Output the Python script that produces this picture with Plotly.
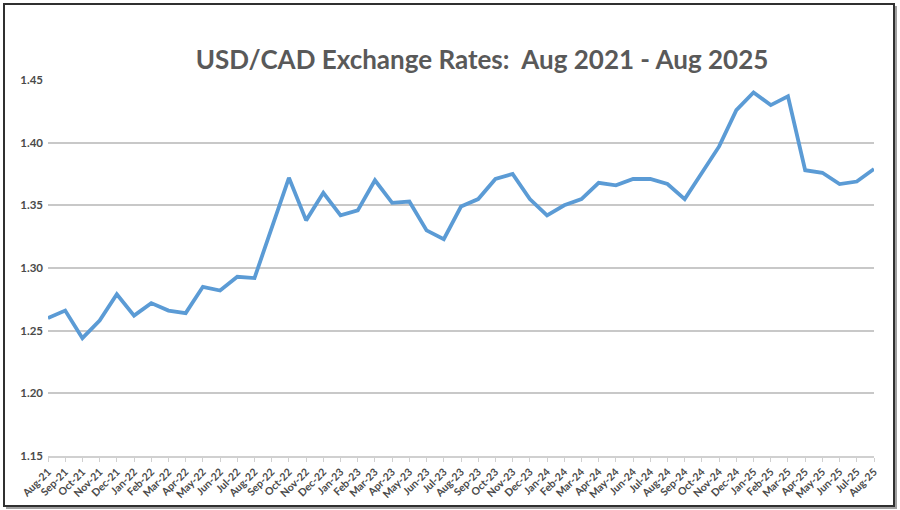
import plotly.graph_objects as go

months = ["Aug-21","Sep-21","Oct-21","Nov-21","Dec-21","Jan-22","Feb-22","Mar-22","Apr-22","May-22",
          "Jun-22","Jul-22","Aug-22","Sep-22","Oct-22","Nov-22","Dec-22","Jan-23","Feb-23","Mar-23",
          "Apr-23","May-23","Jun-23","Jul-23","Aug-23","Sep-23","Oct-23","Nov-23","Dec-23","Jan-24",
          "Feb-24","Mar-24","Apr-24","May-24","Jun-24","Jul-24","Aug-24","Sep-24","Oct-24","Nov-24",
          "Dec-24","Jan-25","Feb-25","Mar-25","Apr-25","May-25","Jun-25","Jul-25","Aug-25"]
usd_cad = [1.260, 1.266, 1.244, 1.258, 1.279, 1.262, 1.272, 1.266, 1.264, 1.285,
           1.282, 1.293, 1.292, 1.332, 1.372, 1.338, 1.360, 1.342, 1.346, 1.370,
           1.352, 1.353, 1.330, 1.323, 1.349, 1.355, 1.371, 1.375, 1.355, 1.342,
           1.350, 1.355, 1.368, 1.366, 1.371, 1.371, 1.367, 1.355, 1.376, 1.397,
           1.426, 1.440, 1.430, 1.437, 1.378, 1.376, 1.367, 1.369, 1.379]
y_ticks = [1.15, 1.20, 1.25, 1.30, 1.35, 1.40, 1.45]
title_text = "USD/CAD Exchange Rates:  Aug 2021 - Aug 2025"

W, H = 900, 510
L, R, T, B = 48, 26, 80, 54
pw, ph = W - L - R, H - T - B

def px(x):
    return (x - L) / pw

def py(y):
    return 1 - (y - T) / ph

fig = go.Figure()
fig.add_trace(go.Scatter(
    x=list(range(len(months))), y=usd_cad, mode="lines",
    line=dict(color="#5b9bd5", width=3.8), hoverinfo="skip", showlegend=False,
))

grey = "#595959"
tick_grey = "#4a4a4a"
fig.update_layout(
    width=W, height=H,
    margin=dict(l=L, r=R, t=T, b=B, autoexpand=False),
    paper_bgcolor="white", plot_bgcolor="white",
    font=dict(family="Lato", color=grey),
    title=dict(text=title_text, x=482 / W, xanchor="center", y=1 - 60 / H, yanchor="middle",
               xref="container", yref="container",
               font=dict(family="Lato", size=26, color=grey, weight="bold")),
    xaxis=dict(
        range=[0, len(months) - 1], tickmode="array",
        tickvals=list(range(len(months))), ticktext=months,
        tickangle=-45, tickfont=dict(size=10.5, color=tick_grey, weight="bold"),
        showgrid=False, zeroline=False,
        showline=True, linecolor="#d0d0d0", linewidth=1.5,
        ticks="outside", ticklen=4, tickcolor="#d0d0d0", tickwidth=1,
        automargin=False,
    ),
    yaxis=dict(
        range=[1.15, 1.45], tickmode="array", tickvals=y_ticks,
        tickformat=".2f", tickfont=dict(size=11.5, color=tick_grey, weight="bold"),
        showgrid=True, gridcolor="#c8c8c8", gridwidth=1.5,
        zeroline=False, showline=False, ticks="", ticklabelstandoff=4,
        automargin=False,
    ),
)

# chart frame with drop shadow
fig.add_shape(type="rect", xref="paper", yref="paper",
              x0=px(6), x1=px(897), y0=py(509), y1=py(6),
              line=dict(width=0), fillcolor="#a0a0a0", layer="below")
fig.add_shape(type="rect", xref="paper", yref="paper",
              x0=px(4), x1=px(894), y0=py(506), y1=py(4),
              line=dict(color="#303030", width=2), fillcolor="white", layer="below")

fig.write_html("out.html")
